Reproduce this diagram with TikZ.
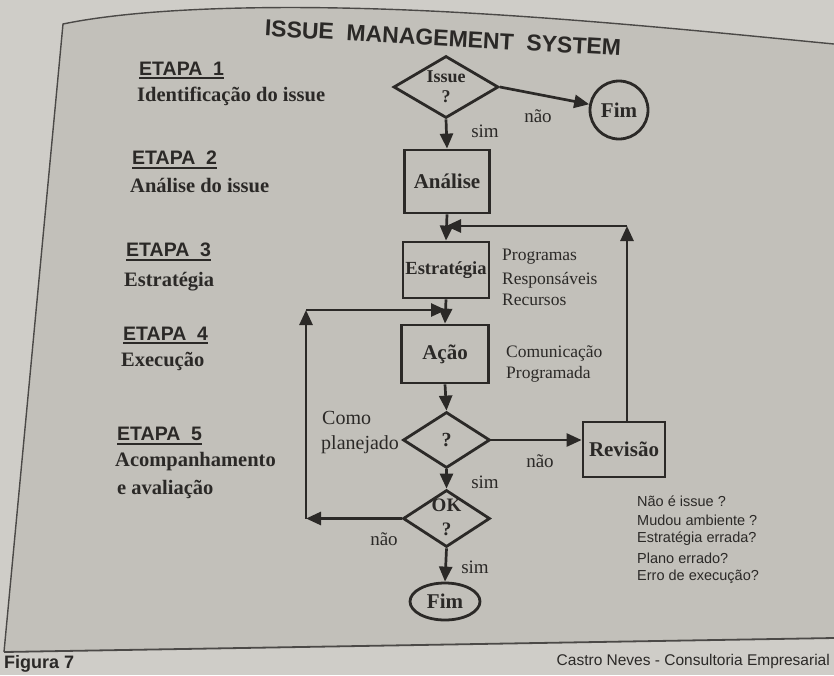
\documentclass[tikz,border=0pt]{standalone}
\usepackage{fontspec}
\setmainfont{Liberation Serif}
\newfontfamily\sansf{Liberation Sans}
\usetikzlibrary{shapes.geometric,arrows.meta}
\definecolor{paper}{HTML}{C2C0BA}
\definecolor{outerpg}{HTML}{CFCDC8}
\definecolor{ink}{HTML}{2B2927}
\begin{document}
\begin{tikzpicture}[x=1pt,y=-1pt,
  every node/.style={text=ink},
  box/.style={rectangle, draw=ink, line width=2.8pt, fill=paper, inner sep=0pt, font=\fontsize{21}{23}\selectfont\bfseries},
  dia/.style={diamond, draw=ink, line width=2.8pt, fill=paper, inner sep=0pt, shape aspect=1.6},
  dtxt/.style={align=center, inner sep=0pt, font=\fontsize{18}{21}\selectfont\bfseries},
  conn/.style={draw=ink, line width=2.7pt, -{Triangle[length=15pt,width=13pt]}},
  lbl/.style={inner sep=0pt, font=\fontsize{19}{21}\selectfont},
  side/.style={inner sep=0pt, anchor=west, font=\fontsize{17.5}{19}\selectfont},
  etapa/.style={inner sep=0pt, anchor=west, font=\sansf\fontsize{19.5}{21}\selectfont\bfseries},
  etxt/.style={inner sep=0pt, anchor=west, font=\fontsize{20.5}{22}\selectfont\bfseries},
  note/.style={inner sep=0pt, anchor=west, font=\sansf\fontsize{14.5}{17}\selectfont},
  ul/.style={draw=ink, line width=2pt}
]
\useasboundingbox (0,0) rectangle (834,675);
% page background
\fill[outerpg] (0,0) rectangle (834,675);
\fill[paper] (63,24) .. controls (150,6) and (300,4) .. (450,12) .. controls (600,20) and (750,36) .. (834,44)
  -- (834,638) -- (4,652) -- cycle;
\draw[draw=ink!85, line width=1.4pt] (4,652) -- (63,24) .. controls (150,6) and (300,4) .. (450,12) .. controls (600,20) and (750,36) .. (834,44);
\draw[draw=ink!85, line width=1.8pt] (4,652) -- (834,638);

% title
\node[inner sep=0pt, rotate=-3.2, font=\sansf\fontsize{23}{25}\selectfont\bfseries] (title) at (443,38) {ISSUE\ \ MANAGEMENT\ \ SYSTEM};

% etapas
\node[etapa] (e1) at (139,69) {ETAPA\ \ 1};
\node[etxt] (t1) at (137,96) {Identificação do issue};
\node[etapa] (e2) at (132,158) {ETAPA\ \ 2};
\node[etxt] (t2) at (130,185) {Análise do issue};
\node[etapa] (e3) at (126,250) {ETAPA\ \ 3};
\node[etxt] (t3) at (124,282) {Estratégia};
\node[etapa] (e4) at (123,334) {ETAPA\ \ 4};
\node[etxt] (t4) at (121,361) {Execução};
\node[etapa] (e5) at (117,434) {ETAPA\ \ 5};
\node[etxt] (t5) at (115,462) {Acompanhamento};
\node[etxt] (t6) at (117,489) {e avaliação};
\foreach \e in {e1,e2,e3,e4,e5}{
  \draw[ul] ([yshift=-2.5pt]\e.south west) -- ([yshift=-2.5pt]\e.south east);
}

% flowchart nodes
\node[dia, minimum width=105, minimum height=62] (issue) at (446,87) {};
\node[dtxt, font=\fontsize{18}{20}\selectfont\bfseries] (issuet) at (issue) {Issue\\?};
\node[circle, draw=ink, line width=2.8pt, fill=paper, minimum size=58, inner sep=0pt, font=\fontsize{21}{23}\selectfont\bfseries] (fim1) at (619,110) {Fim};
\node[box, minimum width=85, minimum height=63] (analise) at (447,181.5) {Análise};
\node[box, minimum width=86, minimum height=56, font=\fontsize{18.5}{20}\selectfont\bfseries] (estr) at (446,270) {Estratégia};
\node[box, minimum width=87, minimum height=58] (acao) at (445,354) {Ação};
\node[dia, minimum width=87, minimum height=56, font=\fontsize{20}{22}\selectfont\bfseries] (q) at (446.5,440) {?};
\node[dia, minimum width=87, minimum height=57] (ok) at (446.5,518.5) {};
\node[dtxt, font=\fontsize{19}{24}\selectfont\bfseries] (okt) at ([yshift=1pt]ok) {OK\\?};
\node[ellipse, draw=ink, line width=2.8pt, fill=paper, minimum width=70, minimum height=37, inner sep=0pt, font=\fontsize{21}{23}\selectfont\bfseries] (fim2) at (445,601.5) {Fim};
\node[box, minimum width=82, minimum height=55] (rev) at (624,449.5) {Revisão};

% helper coordinates
\coordinate (j1) at (446,226);
\coordinate (r1) at (627,226);
\coordinate (j2) at (446,310);
\coordinate (l1) at (306,310);
\coordinate (l2) at (306,518.5);

% connectors
\draw[conn] (issue.south) -- (analise.north);
\draw[conn] (issue.east) -- (fim1);
\draw[conn] (analise.south) -- (estr.north);
\draw[conn] (estr.south) -- (acao.north);
\draw[conn] (acao.south) -- (q.north);
\draw[conn] (q.east) -- (q.east -| rev.west);
\draw[conn] (q.south) -- (ok.north);
\draw[conn] (ok.south) -- (fim2.north);
\draw[conn] (rev.north -| r1) -- (r1);
\draw[conn] (r1) -- (j1);
\draw[conn] (ok.west) -- (l2);
\draw[conn] (l2) -- (l1);
\draw[conn] (l1) -- (j2);

% labels
\node[lbl] (nao1) at (538,116) {não};
\node[lbl] (sim1) at (485,131) {sim};
\node[side] (p1) at (502,257) {Programas};
\node[side] (p2) at (502,280) {Responsáveis};
\node[side] (p3) at (502,300) {Recursos};
\node[side] (c1) at (506,353) {Comunicação};
\node[side] (c2) at (506,374) {Programada};
\node[lbl, anchor=west, font=\fontsize{20}{22}\selectfont] (como) at (322,418) {Como};
\node[lbl, anchor=west, font=\fontsize{20}{22}\selectfont] (plan) at (321,445) {planejado};
\node[lbl] (nao2) at (540,461) {não};
\node[lbl] (sim2) at (485,482) {sim};
\node[lbl] (nao3) at (384,539) {não};
\node[lbl] (sim3) at (475,567) {sim};
\node[note] (n1) at (637,501) {Não é issue ?};
\node[note] (n2) at (637,520) {Mudou ambiente ?};
\node[note] (n3) at (637,539) {Estratégia errada?};
\node[note] (n4) at (637,558) {Plano errado?};
\node[note] (n5) at (637,577) {Erro de execução?};

% footer
\node[inner sep=0pt, anchor=west, font=\sansf\fontsize{18}{20}\selectfont\bfseries] (fig) at (4,664) {Figura 7};
\node[inner sep=0pt, anchor=east, font=\sansf\fontsize{15.5}{17}\selectfont] (cn) at (830,661) {Castro Neves - Consultoria Empresarial};
\end{tikzpicture}
\end{document}
